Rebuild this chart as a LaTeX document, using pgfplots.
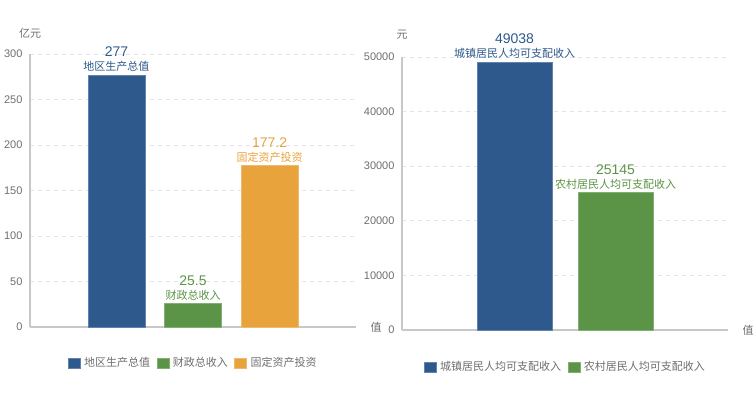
\documentclass[border=0pt]{standalone}
\usepackage{pgfplots}
\pgfplotsset{compat=1.18}
\usepackage{fontspec}
\setmainfont{Liberation Sans}
\newfontfamily\cjk{Noto Sans CJK SC}
\definecolor{cblue}{RGB}{46,89,140}
\definecolor{cgreen}{RGB}{91,148,70}
\definecolor{corange}{RGB}{232,163,60}
\definecolor{tgray}{RGB}{110,110,110}
\definecolor{agray}{RGB}{200,200,200}
\definecolor{ggray}{RGB}{228,228,228}
\newcommand{\vl}{\fontsize{14bp}{14bp}\selectfont}
\newcommand{\cl}{\fontsize{11bp}{14bp}\selectfont\cjk}
\pgfplotsset{
  mystyle/.style={
    scale only axis, width=326bp, height=273bp, clip=false,
    axis x line*=bottom, axis y line*=left,
    axis line style={agray, line width=1.2bp},
    ymin=0, xtick=\empty, ytick style={draw=none},
    ymajorgrids, grid style={ggray, dash pattern=on 4bp off 4bp, line width=0.8bp},
    yticklabel style={font=\fontsize{11bp}{13bp}\selectfont, text=tgray, xshift=-4bp},
    /pgf/number format/assume math mode=true,
    /pgf/number format/1000 sep={},
    scaled y ticks=false,
    ybar, bar shift=0pt,
    legend style={draw=none, fill=none, font=\fontsize{11bp}{13bp}\selectfont\cjk, text=tgray,
      legend columns=-1, anchor=center, nodes={inner sep=1.5bp},
      /tikz/every odd column/.append style={column sep=2bp},
      /tikz/every even column/.append style={column sep=5bp}},
    legend image code/.code={\fill[##1] (0bp,-5bp) rectangle (12bp,5bp);},
    every node near coord/.append style={align=center, anchor=south, inner sep=0pt, yshift=3bp,
      font=\fontsize{11bp}{14bp}\selectfont},
  }
}
\begin{document}
\begin{tikzpicture}
\path[use as bounding box] (0,0) rectangle (755bp,413bp);
\begin{axis}[mystyle, at={(30bp,86bp)}, anchor=south west,
  ymax=300, ytick={0,50,...,300}, xmin=-1.13, xmax=3.13, bar width=57bp,
  legend style={at={(0.5,-0.1319)}}]
\addplot[fill=cblue, draw=cblue!75!white, line width=0.8bp,
  every node near coord/.append style={text=cblue},
  nodes near coords={\vl 277\\\cl 地区生产总值}]
  coordinates {(0,277)};
\addlegendentry{地区生产总值}
\addplot[fill=cgreen, draw=cgreen!75!white, line width=0.8bp,
  every node near coord/.append style={text=cgreen},
  nodes near coords={\vl 25.5\\\cl 财政总收入}]
  coordinates {(1,25.5)};
\addlegendentry{财政总收入}
\addplot[fill=corange, draw=corange!75!white, line width=0.8bp,
  every node near coord/.append style={text=corange},
  nodes near coords={\vl 177.2\\\cl 固定资产投资}]
  coordinates {(2,177.2)};
\addlegendentry{固定资产投资}
\node[text=tgray, font=\fontsize{11bp}{13bp}\selectfont\cjk] at (rel axis cs:0,1) [yshift=21bp] {亿元};
\node[text=tgray, font=\fontsize{11bp}{13bp}\selectfont\cjk, anchor=west] at (rel axis cs:1,0) [xshift=11bp] {值};
\end{axis}
\begin{axis}[mystyle, at={(402bp,83bp)}, anchor=south west,
  ymax=50000, ytick={0,10000,...,50000}, xmin=-1.114, xmax=2.114, bar width=75bp,
  legend style={at={(0.5,-0.1355)}}]
\addplot[fill=cblue, draw=cblue!75!white, line width=0.8bp,
  every node near coord/.append style={text=cblue},
  nodes near coords={\vl 49038\\\cl 城镇居民人均可支配收入}]
  coordinates {(0,49038)};
\addlegendentry{城镇居民人均可支配收入}
\addplot[fill=cgreen, draw=cgreen!75!white, line width=0.8bp,
  every node near coord/.append style={text=cgreen},
  nodes near coords={\vl 25145\\\cl 农村居民人均可支配收入}]
  coordinates {(1,25145)};
\addlegendentry{农村居民人均可支配收入}
\node[text=tgray, font=\fontsize{11bp}{13bp}\selectfont\cjk] at (rel axis cs:0,1) [yshift=22bp] {元};
\node[text=tgray, font=\fontsize{11bp}{13bp}\selectfont\cjk, anchor=west] at (rel axis cs:1,0) [xshift=11bp] {值};
\end{axis}
\end{tikzpicture}
\end{document}
